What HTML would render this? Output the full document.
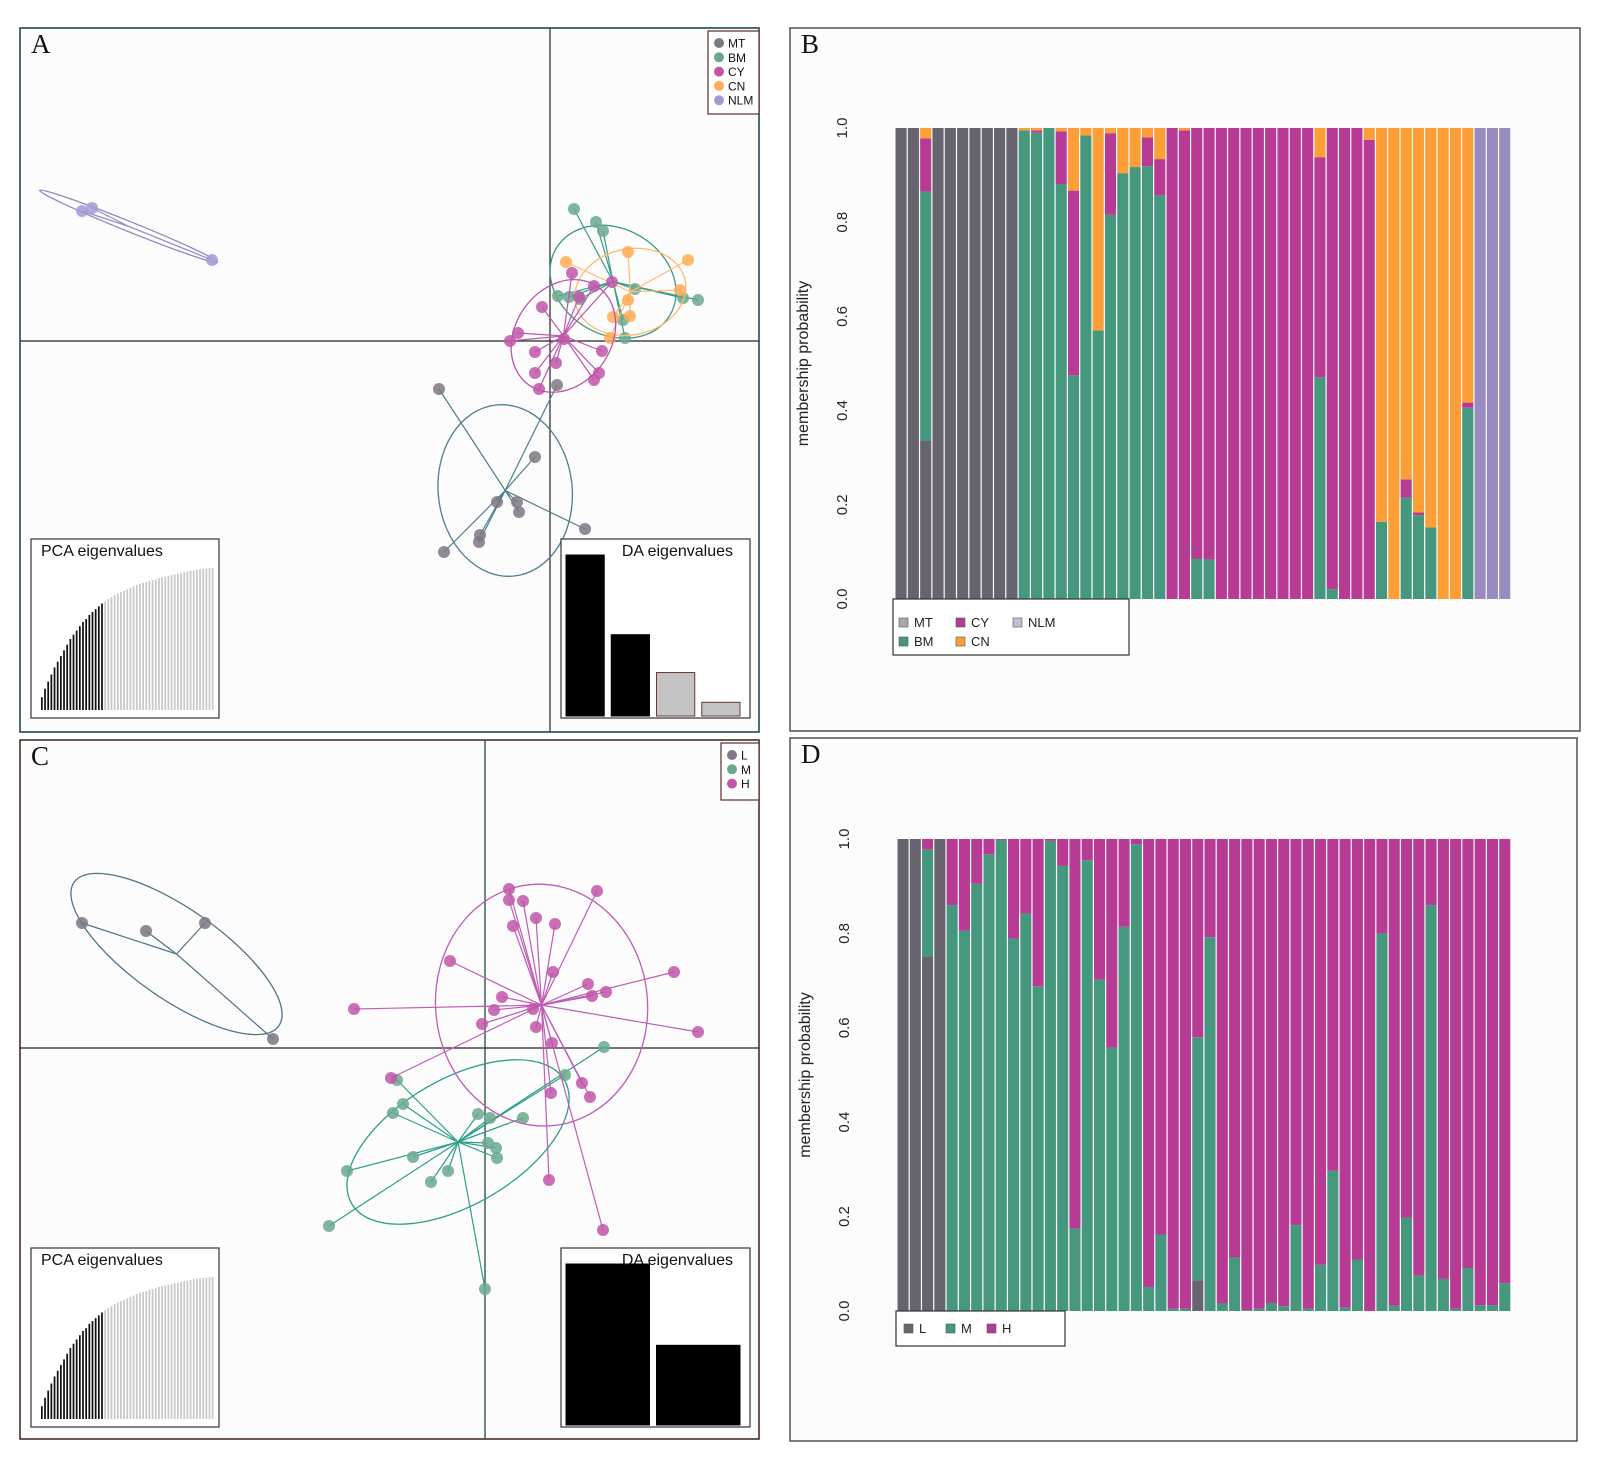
<!DOCTYPE html>
<html><head><meta charset="utf-8">
<style>
html,body{margin:0;padding:0;background:#fff;}
svg{display:block;font-family:"Liberation Sans",Arial,sans-serif;}
</style></head>
<body>
<svg id="fig" width="1598" height="1457" viewBox="0 0 1598 1457" xmlns="http://www.w3.org/2000/svg">
<rect x="0" y="0" width="1598" height="1457" fill="#fff"/>
<g id="panelA">
<rect x="20" y="28" width="739" height="704" fill="#fcfcfc" stroke="#1f4a52" stroke-width="1.6"/>
<text x="31" y="53" font-family="Liberation Serif, serif" font-size="27" fill="#111">A</text>
</g>
<g id="panelB">
<rect x="790" y="28" width="790" height="703" fill="#fcfcfc" stroke="#444" stroke-width="1.4"/>
<text x="801" y="53" font-family="Liberation Serif, serif" font-size="27" fill="#111">B</text>
</g>
<g id="panelC">
<rect x="20" y="740" width="739" height="699" fill="#fcfcfc" stroke="#4a2f28" stroke-width="1.6"/>
<text x="31" y="765" font-family="Liberation Serif, serif" font-size="27" fill="#111">C</text>
</g>
<g id="panelD">
<rect x="790" y="738" width="787" height="703" fill="#fcfcfc" stroke="#444" stroke-width="1.4"/>
<text x="801" y="763" font-family="Liberation Serif, serif" font-size="27" fill="#111">D</text>
</g>
</svg>
<script>
// ===== Panel B data (membership probabilities, 50 individuals) =====
const bMT  = [1,1,.337,1,1,1,1,1,1,1, 0,0,0,0,0,0,0,0,0,0, 0,0,0,0,0,0,0,0,0,0, 0,0,0,0,0,0,0,0,0,0, 0,0,0,0,0,0,0,0,0,0];
const bBM  = [0,0,.528,0,0,0,0,0,0,0, .995,.99,1,.881,.475,.984,.57,.816,.904,.917, .919,.857,0,0,.086,.084,0,0,0,0, 0,0,0,0,.471,.021,0,0,0,.164, 0,.215,.178,.152,0,0,.406,0,0,0];
const bCY  = [0,0,.113,0,0,0,0,0,0,0, 0,.005,0,.112,.392,0,0,.173,0,0, .061,.077,1,.995,.914,.916,1,1,1,1, 1,1,1,1,.467,.979,1,1,.975,0, 0,.039,.006,0,0,0,.011,0,0,0];
const bCN  = [0,0,.022,0,0,0,0,0,0,0, .005,.005,0,.007,.133,.016,.43,.011,.096,.083, .02,.066,0,.005,0,0,0,0,0,0, 0,0,0,0,.062,0,0,0,.025,.836, 1,.746,.816,.848,1,1,.583,0,0,0];
const bNLM = [0,0,0,0,0,0,0,0,0,0, 0,0,0,0,0,0,0,0,0,0, 0,0,0,0,0,0,0,0,0,0, 0,0,0,0,0,0,0,0,0,0, 0,0,0,0,0,0,0,1,1,1];
// ===== Panel D data =====
const dL = [1,1,.75,1, 0,0,0,0,0,0,0,0,0,0,0,0,0,0,0,0,0,0,0,0, .065, 0,0,0,0,0,0,0,0,0,0,0,0,0,0,0,0,0,0,0,0,0,0,0,0,0];
const dM = [0,0,.228,0, .86,.806,.905,.968,.998,.789,.842,.688,.996,.943,.175,.955,.702,.558,.814,.989,.051,.162,.005,.005, .515, .792,.016,.113,.002,.005,.017,.01,.182,.005,.098,.297,.007,.109,0,.8,.011,.198,.075,.86,.068,.005,.091,.012,.012,.059];
const yTicks = [0,0.2,0.4,0.6,0.8,1.0];
const yTickLabels = ["0.0","0.2","0.4","0.6","0.8","1.0"];
// ===== Panel A scatter data (discriminant function coordinates) =====
const aMT  = [[-11.1,-4.8],[0.7,-4.4],[-1.5,-11.6],[-5.3,-16.1],[-3.3,-16.1],[-3.1,-17.1],[3.5,-18.8],[-7,-19.4],[-7.1,-20.1],[-10.6,-21.1]];
const aBM  = [[2.4,13.2],[4.6,11.9],[5.3,11],[0.8,4.5],[1.9,4.4],[3,4.2],[8.5,5.2],[13.3,4.3],[14.8,4.1],[7.5,0.3],[7.3,2.1]];
const aCY  = [[2.2,6.8],[4.4,5.5],[6.2,5.9],[2.9,4.4],[-0.8,3.4],[-3.2,0.8],[-4,0],[-1.5,-1.1],[5.2,-1],[0.6,-2.2],[-1.5,-3.2],[4.9,-3.2],[4.4,-3.9],[-1.1,-4.8],[1.4,0.2]];
const aCN  = [[1.6,7.9],[7.8,8.9],[13.8,8.1],[13,5.1],[7.8,4.1],[6.3,2.4],[8,2.5],[6,0.3]];
const aNLM = [[-46.8,13],[-45.8,13.3],[-33.8,8.1]];
// ===== Panel C scatter data =====
const cL = [[-40.3,12.5],[-33.9,11.7],[-28,12.5],[-21.2,0.9]];
const cM = [[-8.8,-3.2],[-8.2,-5.6],[-9.2,-6.5],[-0.7,-6.6],[0.5,-7],[3.8,-7],[8,-2.7],[11.9,0.1],[0.3,-9.5],[1.1,-10],[1.2,-11],[-7.2,-10.9],[-13.8,-12.3],[-3.7,-12.3],[-5.4,-13.4],[-15.6,-17.8],[0,-24.1]];
const cH = [[2.4,15.9],[2.4,14.8],[3.8,14.7],[5.1,13],[7,12.4],[2.8,12.2],[11.2,15.7],[-3.5,8.7],[6.8,7.6],[18.9,7.6],[10.3,6.4],[10.7,5.2],[12.1,5.6],[1.7,5.1],[-13.1,3.9],[0.9,3.8],[4.8,3.9],[-0.3,2.4],[5.1,2.1],[21.3,1.6],[6.7,0.5],[-9.4,-3],[9.7,-3.5],[6.6,-4.5],[10.5,-4.9],[6.4,-13.2],[11.8,-18.2]];
// eigenvalue insets
const pcaEig = [0.09,0.15,0.2,0.25,0.3,0.34,0.38,0.42,0.46,0.5,0.53,0.56,0.59,0.62,0.64,0.67,0.69,0.71,0.73,0.75,
 0.765,0.78,0.795,0.81,0.82,0.83,0.84,0.85,0.86,0.87,0.88,0.89,0.895,0.9,0.91,0.915,0.92,0.93,0.935,0.94,0.945,0.95,0.955,0.96,0.965,0.97,0.975,0.98,0.984,0.988,0.991,0.994,0.996,0.998,1.0];
const pcaRetained = 20;
const daEigA = [1.0,0.505,0.27,0.085];
const daRetainedA = 2;
const daEigC = [1.0,0.495];

const NS="http://www.w3.org/2000/svg";
const svg=document.getElementById('fig');
function mk(tag,attrs,parent){const e=document.createElementNS(NS,tag);for(const k in attrs)e.setAttribute(k,attrs[k]);(parent||svg).appendChild(e);return e;}

// ---------- stacked bar chart ----------
function stacked(opts){
  const {x0,x1,y0,y1,series,colors,names,prefix}=opts;
  const n=series[0].length, pitch=(x1-x0)/n;
  const sx=i=>x0+i*pitch, sy=v=>y1-(y1-y0)*v;
  const g=mk('g',{});
  
  
  for(let i=0;i<n;i++){
    let cum=0;
    for(let s=0;s<series.length;s++){
      let v=series[s][i];
      if(s===series.length-1 && opts.remainder) v=Math.max(0,1-cum);
      if(v<=0) continue;
      const r=mk('rect',{x:sx(i)+0.5,y:sy(cum+v),width:pitch-1.2,height:sy(cum)-sy(cum+v),fill:colors[s]},g);
      
      
      cum+=v;
    }
  }
  const ax=mk('g',{});
  
  
  const axX=x0-23;
  yTicks.forEach((t,k)=>{
    const tx=mk('text',{x:axX-25,y:sy(t),'font-size':15,fill:'#222','text-anchor':'middle',transform:`rotate(-90 ${axX-25} ${sy(t)})`},ax);
    tx.textContent=yTickLabels[k];
  });
  const yt=mk('text',{x:axX-64,y:(sy(0)+sy(1))/2,'font-size':16,fill:'#222','text-anchor':'middle',transform:`rotate(-90 ${axX-64} ${(sy(0)+sy(1))/2})`});
  yt.textContent='membership probability';
  
  
}
const colMT='#67646f',colBM='#45987e',colCY='#b73b95',colCN='#fd9e37',colNLM='#978bc2';
stacked({x0:895,x1:1511,y0:128,y1:599,series:[bMT,bBM,bCY,bCN,bNLM],colors:[colMT,colBM,colCY,colCN,colNLM],names:['mt','bm','cy','cn','nlm'],prefix:'panel-b'});
stacked({x0:897,x1:1511,y0:839,y1:1311,series:[dL,dM,dM],colors:[colMT,colBM,colCY],names:['l','m','h'],prefix:'panel-d',remainder:true});

function barLegend(box,items,prefix){
  const g=mk('g',{});
  
  
  mk('rect',{x:box[0],y:box[1],width:box[2],height:box[3],fill:'#fff',stroke:'#333','stroke-width':1.2},g);
  items.forEach(it=>{
    const e=mk('g',{},g);
    
    
    mk('rect',{x:it[0],y:it[1]-9,width:9,height:9,fill:it[3],stroke:'#555','stroke-width':0.6},e);
    const t=mk('text',{x:it[0]+15,y:it[1],'font-size':13,fill:'#222'},e);t.textContent=it[2];
  });
}
barLegend([893,599,236,56],[[899,627,'MT','#a9a7ad'],[956,627,'CY',colCY],[1013,627,'NLM','#c3bdd9'],[899,646,'BM',colBM],[956,646,'CN',colCN]],'panel-b');
barLegend([896,1311,169,35],[[904,1333,'L',colMT],[946,1333,'M',colBM],[987,1333,'H',colCY]],'panel-d');

function scatter(opts){
  const {ox,oy,groups,prefix}=opts;
  const sx=v=>ox+v*10, sy=v=>oy-v*10;
  const ax=mk('g',{});
  
  
  mk('line',{x1:ox,y1:opts.top,x2:ox,y2:opts.bottom,stroke:opts.axCol,'stroke-width':1.3},ax);
  mk('line',{x1:opts.left,y1:oy,x2:opts.right,y2:oy,stroke:'#222','stroke-width':1.3},ax);
  groups.forEach(gr=>{
    const g=mk('g',{});
    
    
    const mx=gr.pts.reduce((a,p)=>a+p[0],0)/gr.pts.length, my=gr.pts.reduce((a,p)=>a+p[1],0)/gr.pts.length;
    const cx=sx(mx), cy=sy(my);
    const el=mk('ellipse',{cx:cx,cy:cy,rx:gr.ell[0]*10,ry:gr.ell[1]*10,transform:`rotate(${gr.ell[2]} ${cx} ${cy})`,fill:'none',stroke:gr.lc,'stroke-width':1.3},g);
    
    
    gr.pts.forEach(p=>{mk('line',{x1:cx,y1:cy,x2:sx(p[0]),y2:sy(p[1]),stroke:gr.lc,'stroke-width':1.2},g);});
    gr.pts.forEach(p=>{
      const c=mk('circle',{cx:sx(p[0]),cy:sy(p[1]),r:6,fill:gr.pc,'fill-opacity':0.85},g);
      
      
    });
  });
}
scatter({ox:550,oy:341,top:28,bottom:732,left:20,right:759,axCol:'#333',prefix:'panel-a',groups:[
  {name:'nlm',pts:aNLM,ell:[9.6,0.5,22],lc:'#8f88c6',pc:'#a29bd4'},
  {name:'mt',pts:aMT,ell:[6.7,8.6,-6],lc:'#4f7e8e',pc:'#7d7884'},
  {name:'bm',pts:aBM,ell:[6.6,5.3,30],lc:'#3b9a88',pc:'#6aa88e'},
  {name:'cn',pts:aCN,ell:[5.6,4.3,-12],lc:'#ffbb70',pc:'#ffac55'},
  {name:'cy',pts:aCY,ell:[6.0,4.8,-55],lc:'#bb55b0',pc:'#c156a8'}
]});
scatter({ox:485,oy:1048,top:740,bottom:1439,left:20,right:759,axCol:'#1f4a45',prefix:'panel-c',groups:[
  {name:'l',pts:cL,ell:[12.5,4.5,35],lc:'#4f7486',pc:'#7a7580'},
  {name:'m',pts:cM,ell:[12.3,6.3,-30],lc:'#2c9f8c',pc:'#6aa88e'},
  {name:'h',pts:cH,ell:[10.6,12.1,-5],lc:'#bf5bb8',pc:'#c156a8'}
]});

function ptLegend(box,items,prefix){
  const g=mk('g',{});
  
  
  mk('rect',{x:box[0],y:box[1],width:box[2],height:box[3],fill:'#fff',stroke:'#5a2e2a','stroke-width':1.2},g);
  items.forEach((it,k)=>{
    const e=mk('g',{},g);
    
    
    const y=box[1]+12+k*14.3;
    mk('circle',{cx:box[0]+11,cy:y,r:5,fill:it[1]},e);
    const t=mk('text',{x:box[0]+20,y:y+4.5,'font-size':12,fill:'#111'},e);t.textContent=it[0];
  });
}
ptLegend([708,31,51,83],[['MT','#7d7884'],['BM','#6aa88e'],['CY','#c156a8'],['CN','#ffac55'],['NLM','#a29bd4']],'panel-a');
ptLegend([721,743,38,57],[['L','#7d7884'],['M','#6aa88e'],['H','#c156a8']],'panel-c');

function pcaInset(x,y,w,h,prefix){
  const g=mk('g',{});
  
  
  mk('rect',{x:x,y:y,width:w,height:h,fill:'#fff',stroke:'#333','stroke-width':1.2},g);
  const t=mk('text',{x:x+10,y:y+17,'font-size':16,fill:'#111'},g);t.textContent='PCA eigenvalues';
  const bx0=x+10,bx1=x+w-4,base=y+h-8,top=y+29;
  const p=(bx1-bx0)/pcaEig.length;
  pcaEig.forEach((v,i)=>{
    const r=mk('rect',{x:bx0+i*p,y:base-(base-top)*v,width:Math.max(1,p*0.55),height:(base-top)*v,fill:i<pcaRetained?'#111':'#c8c8c8'},g);
    
    
  });
}
function daInset(x,y,w,h,vals,retained,prefix){
  const g=mk('g',{});
  
  
  mk('rect',{x:x,y:y,width:w,height:h,fill:'#fff',stroke:'#333','stroke-width':1.2},g);
  const base=y+h-2,top=y+16;
  const n=vals.length, slot=(w-8)/n;
  vals.forEach((v,i)=>{
    const r=mk('rect',{x:x+5+i*slot,y:base-(base-top)*v,width:slot-7,height:(base-top)*v,fill:i<retained?'#000':'#c4c4c4',stroke:i<retained?'#000':'#6a3a30','stroke-width':1},g);
    
    
  });
  const t=mk('text',{x:x+w-17,y:y+17,'font-size':16,fill:'#111','text-anchor':'end'},g);t.textContent='DA eigenvalues';
}
pcaInset(31,539,188,179,'panel-a');
daInset(561,539,189,179,daEigA,daRetainedA,'panel-a');
pcaInset(31,1248,188,179,'panel-c');
daInset(561,1248,189,179,daEigC,2,'panel-c');
</script>
</body></html>
